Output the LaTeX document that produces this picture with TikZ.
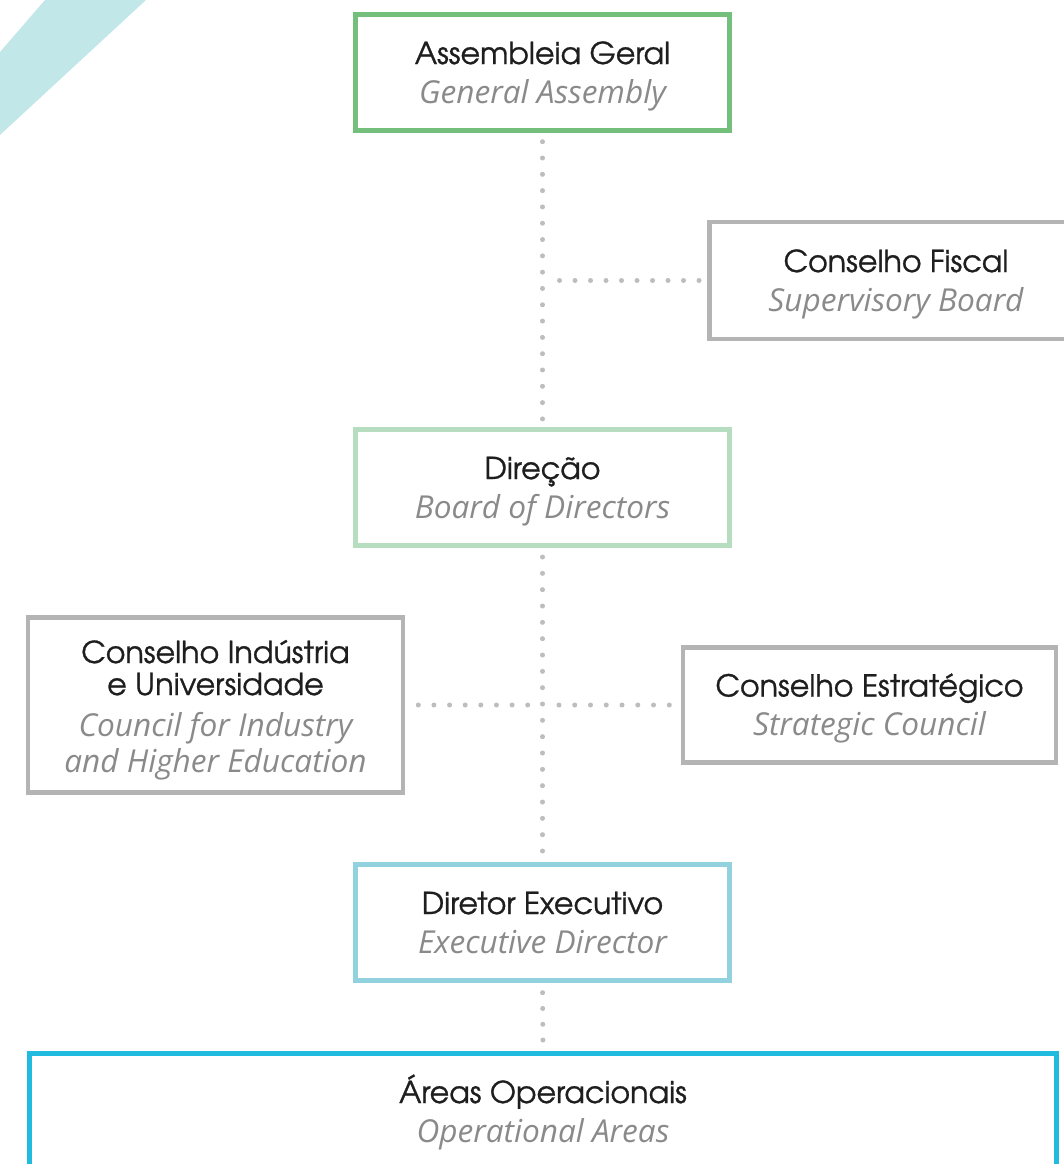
\documentclass[tikz,border=0pt]{standalone}
\usepackage{fontspec}
\setmainfont{TeX Gyre Adventor}[FakeBold=0.9]
\newfontfamily\osans{Open Sans}
\definecolor{grA}{HTML}{73BF7B}
\definecolor{grB}{HTML}{B6DDBF}
\definecolor{blB}{HTML}{92D2DF}
\definecolor{cyA}{HTML}{21BBE0}
\definecolor{gbox}{HTML}{B4B4B4}
\definecolor{gdot}{HTML}{BDBDBD}
\definecolor{txtk}{HTML}{1E1E1E}
\definecolor{txtg}{HTML}{8A8A8A}
\definecolor{stripe}{HTML}{C2E7E9}
\newcommand\blk{\fontsize{22.6pt}{24pt}\selectfont\color{txtk}}
\newcommand\itl{\osans\itshape\fontsize{23.7pt}{27pt}\selectfont\color{txtg}}
\newcommand\twolines[2]{\vbox{\baselineskip=29.25pt\lineskiplimit=-100pt\halign{\hfil##\hfil\cr{\blk #1}\cr{\itl #2}\cr}}}
\tikzset{
  orgbox/.style={draw, line width=3.75pt, inner sep=0pt, outer sep=0pt,
    minimum width=280.5pt, minimum height=87pt,
    text height=52.5pt, text depth=6.75pt},
  graybox/.style={orgbox, draw=gbox, line width=3.375pt},
  dotline/.style={draw=gdot, line width=3.75pt, line cap=round},
}
\begin{document}
\begin{tikzpicture}[x=0.75pt,y=-0.75pt]
\useasboundingbox (0,0) rectangle (1064,1164);
% decorative stripe
\fill[stripe] (53.65,-10) -- (156.8,-10) -- (-10,144.2) -- (-10,63.6) -- cycle;
% boxes
\node[orgbox, draw=grA] (ag) at (542.5,72.5) {\twolines{Assembleia Geral}{General Assembly}};
\node[graybox, minimum width=280.1pt, minimum height=87.4pt] (fis) at (896,280.5) {\twolines{Conselho Fiscal}{Supervisory Board}};
\node[orgbox, draw=grB] (dir) at (542.5,487.5) {\twolines{Direção}{Board of Directors}};
\node[graybox, minimum width=280.9pt, minimum height=131.6pt, text height=107.25pt] (ciu) at (215.5,705)
  {\vbox{\baselineskip=24pt\lineskiplimit=-100pt\halign{\hfil#\hfil\cr{\blk Conselho Indústria}\cr{\blk e Universidade}\cr\noalign{\vskip6.75pt}{\itl Council for Industry}\cr\noalign{\vskip3pt}{\itl and Higher Education}\cr}}};
\node[graybox, minimum width=279.4pt, minimum height=86.6pt] (est) at (869.5,705) {\twolines{Conselho Estratégico}{Strategic Council}};
\node[orgbox, draw=blB] (exe) at (542.5,922.5) {\twolines{Diretor Executivo}{Executive Director}};
\node[orgbox, draw=cyA, minimum width=770.25pt] (ar) at (543,1111.5) {\twolines{Áreas Operacionais}{Operational Areas}};
% connectors
\draw[dotline, dash pattern=on 0pt off 12.23pt, shorten <=8.4pt, shorten >=7.5pt] (ag.south) -- (dir.north);
\draw[dotline, dash pattern=on 0pt off 11.625pt, shorten <=7.69pt, shorten >=12pt] (fis.west) -- (fis.west -| ag.south);
\draw[dotline, dash pattern=on 0pt off 12.25pt, shorten <=8.63pt, shorten >=9.75pt] (dir.south) -- (exe.north);
\draw[dotline, dash pattern=on 0pt off 11.72pt, shorten <=11.66pt, shorten >=10.5pt] (ciu.east) -- (ciu.east -| dir.south);
\draw[dotline, dash pattern=on 0pt off 11.82pt, shorten <=10.46pt, shorten >=11.25pt] (est.west) -- (est.west -| dir.south);
\draw[dotline, dash pattern=on 0pt off 11.83pt, shorten <=9.15pt, shorten >=9.75pt] (exe.south) -- (ar.north);
\end{tikzpicture}
\end{document}
